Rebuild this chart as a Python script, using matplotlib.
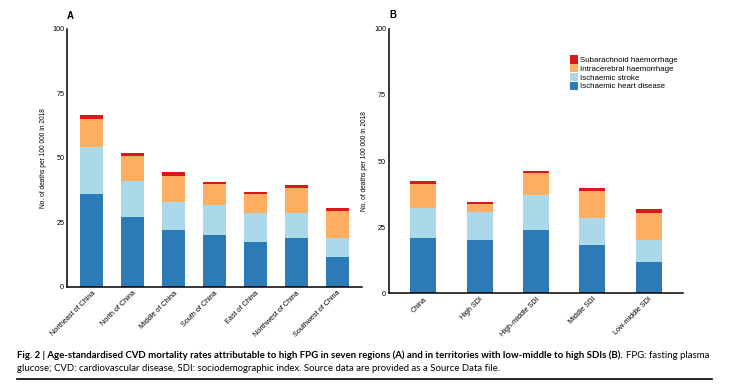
import matplotlib.pyplot as plt
import numpy as np

plt.rcParams['font.family'] = ['Liberation Sans', 'DejaVu Sans']

regions = ["Northeast of China", "North of China", "Middle of China", "South of China",
           "East of China", "Northwest of China", "Southwest of China"]
a_ihd = [36.0, 27.1, 22.0, 20.1, 17.4, 18.9, 11.5]
a_is = [18.3, 14.0, 11.0, 11.6, 11.2, 9.7, 7.4]
a_ich = [10.9, 9.7, 10.0, 8.2, 7.4, 9.7, 10.5]
a_sah = [1.5, 1.1, 1.6, 0.8, 0.8, 1.2, 1.2]

sdi = ["China", "High SDI", "High-middle SDI", "Middle SDI", "Low-middle SDI"]
b_ihd = [21.0, 20.2, 24.0, 18.3, 11.9]
b_is = [11.3, 10.6, 13.2, 10.2, 8.3]
b_ich = [9.1, 3.0, 8.4, 10.3, 10.2]
b_sah = [1.2, 0.5, 0.7, 1.1, 1.5]

causes = ["Ischaemic heart disease", "Ischaemic stroke",
          "Intracerebral haemorrhage", "Subarachnoid haemorrhage"]
colors = ['#2c7bb6', '#abd9e9', '#fdae61', '#d7191c']

fig = plt.figure(figsize=(7.38, 3.86), dpi=100)
axA = fig.add_axes([0.0908, 0.2565, 0.3997, 0.6684])
axB = fig.add_axes([0.527, 0.2409, 0.3985, 0.684])


def stacked(ax, labels, series, width):
    x = np.arange(len(labels))
    bottom = np.zeros(len(labels))
    bars = []
    for vals, c, name in zip(series, colors, causes):
        b = ax.bar(x, vals, width=width, bottom=bottom, color=c, label=name, linewidth=0)
        bars.append(b)
        bottom += np.array(vals)
    ax.set_ylim(0, 100)
    ax.set_xlim(-0.61, len(labels) - 1 + 0.61)
    ax.set_yticks([0, 25, 50, 75, 100])
    ax.set_xticks(x)
    ax.set_xticklabels(labels, rotation=45, ha='right', rotation_mode='anchor')
    ax.tick_params(length=0, labelsize=5.2, pad=2)
    for s in ['top', 'right']:
        ax.spines[s].set_visible(False)
    for s in ['left', 'bottom']:
        ax.spines[s].set_linewidth(1.1)
    ax.set_ylabel('No. of deaths per 100 000 in 2018', fontsize=4.8, labelpad=4)
    return bars


stacked(axA, regions, [a_ihd, a_is, a_ich, a_sah], 0.56)
bars = stacked(axB, sdi, [b_ihd, b_is, b_ich, b_sah], 0.46)

axA.text(0.0, 1.04, 'A', transform=axA.transAxes, fontsize=7, fontweight='bold')
axB.text(0.0, 1.04, 'B', transform=axB.transAxes, fontsize=7, fontweight='bold')

axB.legend(bars[::-1], causes[::-1], loc='upper left', bbox_to_anchor=(0.615, 0.9),
           frameon=False, fontsize=5.7, handlelength=1.0, handleheight=1.2,
           handletextpad=0.3, labelspacing=0.0, borderpad=0, borderaxespad=0)

# caption
fig.canvas.draw()
r = fig.canvas.get_renderer()
cap_font = 'Lato'
t1 = fig.text(17 / 738, 1 - 358 / 386,
              'Fig. 2 | Age-standardised CVD mortality rates attributable to high FPG in seven regions (A) '
              'and in territories with low-middle to high SDIs (B).',
              fontsize=7, fontweight='bold', family=cap_font, va='baseline')
bb = t1.get_window_extent(r)
t1.set_fontsize(7 * (626 - 17) / bb.width)
bb = t1.get_window_extent(r)
t2 = fig.text(bb.x1 / 738 + 0.005, 1 - 358 / 386, 'FPG: fasting plasma',
              fontsize=t1.get_fontsize(), family=cap_font, va='baseline')
fig.text(17 / 738, 1 - 371 / 386,
         'glucose; CVD: cardiovascular disease, SDI: sociodemographic index. '
         'Source data are provided as a Source Data file.',
         fontsize=t1.get_fontsize(), family=cap_font, va='baseline')
fig.add_artist(plt.Line2D([17 / 738, 712 / 738], [1 - 379 / 386] * 2, color='black', linewidth=1.2))

fig.savefig('out.png', dpi=100)
